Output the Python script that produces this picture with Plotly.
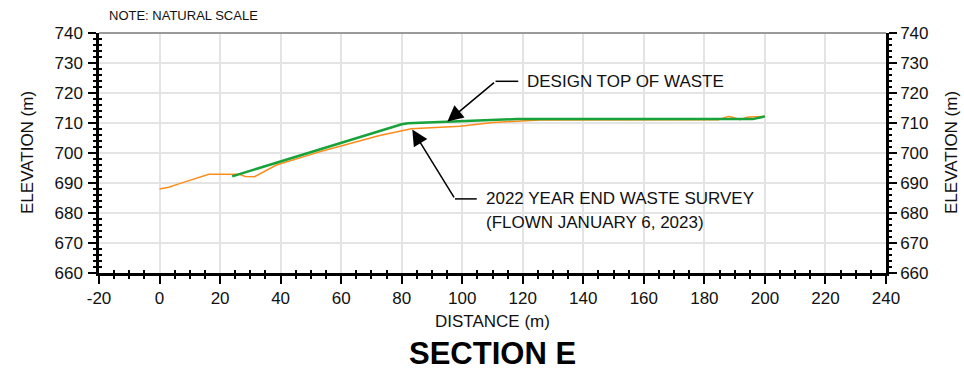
import plotly.graph_objects as go

# ---- data ----
survey_x = [0, 3, 6.6, 16.3, 26.4, 28.3, 31.4, 38.6, 50.7, 52.9, 72.7, 80, 83.2, 99.2, 110.2, 125.6, 184.6, 187.9, 189, 191.7, 192.8, 194.5, 200]
survey_y = [688.0, 688.6, 689.8, 692.9, 692.9, 692.2, 692.1, 696.0, 699.7, 700.4, 705.8, 707.4, 708.1, 708.9, 710.2, 711.0, 711.1, 712.2, 712.0, 711.1, 711.4, 712.0, 712.2]

design_x = [24, 80, 82, 118, 196, 200]
design_y = [692.2, 709.6, 709.9, 711.3, 711.3, 712.2]

x_ticks = [-20, 0, 20, 40, 60, 80, 100, 120, 140, 160, 180, 200, 220, 240]
x_tick_labels = ["-20", "0", "20", "40", "60", "80", "100", "120", "140", "160", "180", "200", "220", "240"]
y_ticks = [660, 670, 680, 690, 700, 710, 720, 730, 740]

x_range = [-20, 240]
y_range = [660, 740]

FONT = "Liberation Sans, Arial, sans-serif"
GREEN = "#17a23a"
ORANGE = "#ff8c1a"
GRID = "#e4e4e4"

fig = go.Figure()
fig.add_trace(go.Scatter(x=survey_x, y=survey_y, mode="lines",
                         line=dict(color=ORANGE, width=1.5), showlegend=False, hoverinfo="skip"))
fig.add_trace(go.Scatter(x=design_x, y=design_y, mode="lines",
                         line=dict(color=GREEN, width=2.5), showlegend=False, hoverinfo="skip"))
# invisible traces for overlay axes
fig.add_trace(go.Scatter(x=[None], y=[None], xaxis="x2", yaxis="y2", showlegend=False, hoverinfo="skip"))
fig.add_trace(go.Scatter(x=[None], y=[None], xaxis="x", yaxis="y3", showlegend=False, hoverinfo="skip"))

tickfont = dict(family=FONT, size=17, color="#111")

fig.update_layout(
    width=964, height=373,
    margin=dict(l=99, r=78, t=33, b=100, autoexpand=False),
    paper_bgcolor="white", plot_bgcolor="white",
    xaxis=dict(range=x_range, tickmode="array", tickvals=x_ticks, ticktext=x_tick_labels,
               showgrid=True, gridcolor=GRID, gridwidth=2,
               zeroline=False, showline=True, linecolor="black", linewidth=2.5,
               ticks="outside", ticklen=8, tickwidth=2, tickcolor="black", tickfont=tickfont,
               minor=dict(dtick=5, tick0=0, ticks="outside", ticklen=3, tickwidth=1.5, tickcolor="black", showgrid=False)),
    xaxis2=dict(range=x_range, overlaying="x", side="bottom", showgrid=False, zeroline=False,
                showline=False, showticklabels=False, ticks="", dtick=20,
                minor=dict(dtick=5, tick0=0, ticks="inside", ticklen=3, tickwidth=1.5, tickcolor="black", showgrid=False)),
    yaxis=dict(range=y_range, tickmode="array", tickvals=y_ticks, showgrid=True, gridcolor=GRID, gridwidth=2,
               zeroline=False, showline=True, linecolor="black", linewidth=2.5,
               ticks="outside", ticklen=8, tickwidth=2, tickcolor="black", tickfont=tickfont,
               ticklabelstandoff=2,
               minor=dict(dtick=2, tick0=0, ticks="outside", ticklen=3, tickwidth=1.5, tickcolor="black", showgrid=False)),
    yaxis2=dict(range=y_range, overlaying="y", side="right", anchor="x2", showgrid=False, zeroline=False,
                showline=True, linecolor="black", linewidth=2.5, tickmode="array", tickvals=y_ticks,
                ticks="outside", ticklen=8, tickwidth=2, tickcolor="black", tickfont=tickfont,
                minor=dict(dtick=2, tick0=0, ticks="outside", ticklen=3, tickwidth=1.5, tickcolor="black", showgrid=False)),
    yaxis3=dict(range=y_range, overlaying="y", side="left", showgrid=False, zeroline=False,
                showline=False, showticklabels=False, ticks="", dtick=10,
                minor=dict(dtick=2, tick0=0, ticks="inside", ticklen=3, tickwidth=1.5, tickcolor="black", showgrid=False)),
)

# top border
fig.add_shape(type="line", xref="paper", yref="paper", x0=0, x1=1, y0=1, y1=1,
              line=dict(color="#9a9a9a", width=2))

# leader horizontals
fig.add_shape(type="line", xref="x", yref="y", x0=111.0, x1=118.5, y0=723.9, y1=723.9,
              line=dict(color="black", width=1.5))
fig.add_shape(type="line", xref="x", yref="y", x0=97.6, x1=104.8, y0=684.7, y1=684.7,
              line=dict(color="black", width=1.5))

ann_font = dict(family=FONT, size=17, color="#111")
annotations = [
    dict(x=95.1, y=710.5, ax=111.0, ay=723.9, axref="x", ayref="y", xref="x", yref="y",
         text="", showarrow=True, arrowhead=2, arrowsize=2.1, arrowwidth=1.5, arrowcolor="black", standoff=0),
    dict(x=83.5, y=707.8, ax=97.6, ay=684.7, axref="x", ayref="y", xref="x", yref="y",
         text="", showarrow=True, arrowhead=2, arrowsize=2.1, arrowwidth=1.5, arrowcolor="black", standoff=0),
    dict(x=120.7, y=723.9, xref="x", yref="y", text="DESIGN TOP OF WASTE", showarrow=False,
         xanchor="left", yanchor="middle", font=ann_font),
    dict(x=107.2, y=684.9, xref="x", yref="y", text="2022 YEAR END WASTE SURVEY", showarrow=False,
         xanchor="left", yanchor="middle", font=ann_font),
    dict(x=107.2, y=676.9, xref="x", yref="y", text="(FLOWN JANUARY 6, 2023)", showarrow=False,
         xanchor="left", yanchor="middle", font=ann_font),
    dict(x=-17.5, y=1.073, xref="x", yref="paper", text="NOTE: NATURAL SCALE", showarrow=False,
         xanchor="left", yanchor="middle", font=dict(family=FONT, size=13, color="#111")),
    dict(x=0.5, y=(273 - 321) / 240, xref="paper", yref="paper", text="DISTANCE (m)", showarrow=False,
         xanchor="center", yanchor="middle", font=ann_font),
    dict(x=0.5, y=(273 - 353) / 240, xref="paper", yref="paper", text="<b>SECTION E</b>", showarrow=False,
         xanchor="center", yanchor="middle", font=dict(family=FONT, size=31, color="black")),
    dict(x=(27 - 99) / 787, y=0.5, xref="paper", yref="paper", text="ELEVATION (m)", showarrow=False,
         textangle=-90, xanchor="center", yanchor="middle", font=ann_font),
    dict(x=(951 - 99) / 787, y=0.5, xref="paper", yref="paper", text="ELEVATION (m)", showarrow=False,
         textangle=-90, xanchor="center", yanchor="middle", font=ann_font),
]
fig.update_layout(annotations=annotations)

fig.write_html("out.html", config={"displayModeBar": False},
               post_script="document.body.style.margin='0';document.body.style.overflow='hidden';")
